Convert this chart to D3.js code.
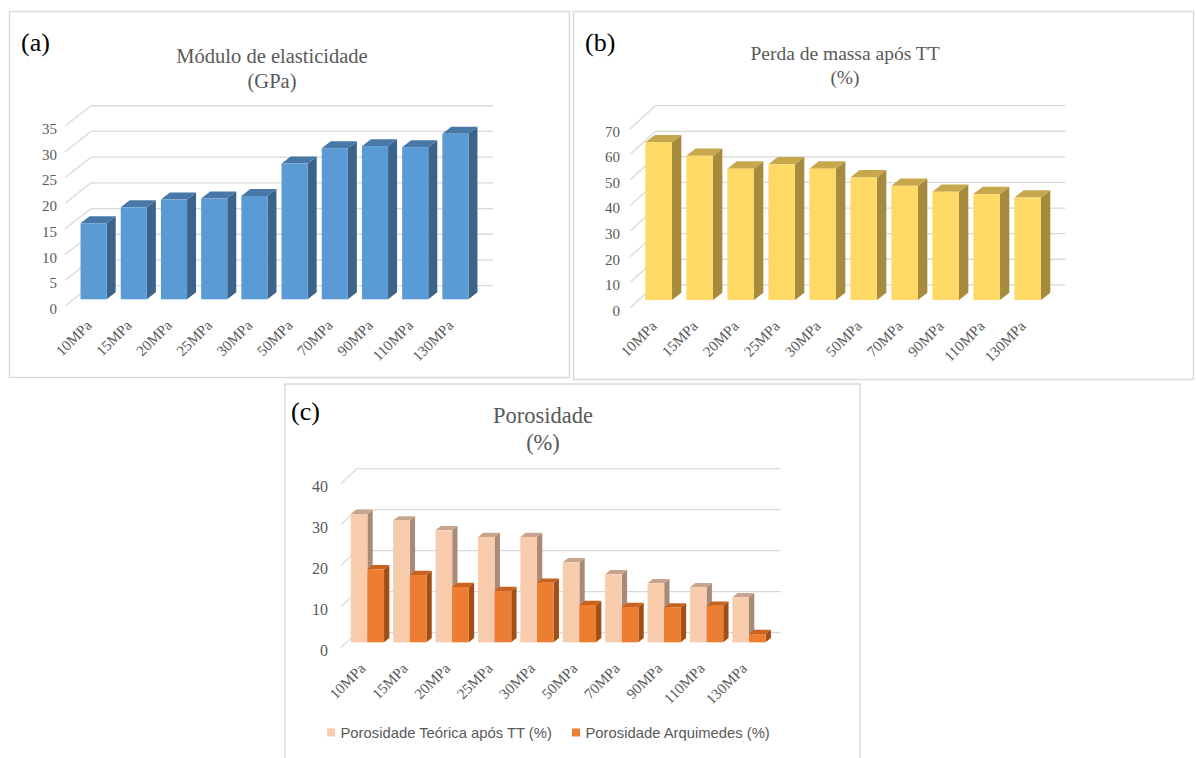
<!DOCTYPE html>
<html>
<head>
<meta charset="utf-8">
<script src="https://cdn.jsdelivr.net/npm/d3@7"></script>
<style>
  html, body { margin: 0; padding: 0; background: #fff; }
  svg { display: block; }
</style>
</head>
<body>
<svg id="fig" width="1196" height="758"></svg>
<script>
// Pressure levels shared by all three panels
const categories = ["10MPa", "15MPa", "20MPa", "25MPa", "30MPa", "50MPa", "70MPa", "90MPa", "110MPa", "130MPa"];

// (a) Módulo de elasticidade (GPa)
const moduloGPa = [14.8, 17.9, 19.4, 19.6, 20.1, 26.4, 29.4, 29.8, 29.6, 32.2];
const ticksA = [0, 5, 10, 15, 20, 25, 30, 35];

// (b) Perda de massa após TT (%)
const perdaMassa = [61.6, 56.3, 51.3, 53.0, 51.3, 47.9, 44.6, 42.3, 41.4, 40.0];
const ticksB = [0, 10, 20, 30, 40, 50, 60, 70];

// (c) Porosidade (%)
const porosTeorica = [31.3, 29.7, 27.3, 25.7, 25.7, 19.5, 16.6, 14.4, 13.4, 11.0];
const porosArquimedes = [17.8, 16.4, 13.5, 12.5, 14.5, 9.1, 8.6, 8.5, 8.9, 2.0];
const ticksC = [0, 10, 20, 30, 40];
const seriesC = ["Porosidade Teórica após TT (%)", "Porosidade Arquimedes (%)"];

const svg = d3.select("#fig");
const SERIF = "'Liberation Serif', 'Times New Roman', serif";
const SANS = "'Liberation Sans', Arial, sans-serif";
const GRID = "#d9d9d9";
const TXT = "#595959";

// Panel frames
const frames = [
  { x: 9.5, y: 11.5, w: 560, h: 366 },
  { x: 573.5, y: 11.5, w: 620, h: 368 },
  { x: 285, y: 384, w: 575, h: 380 }
];
svg.selectAll("rect.frame").data(frames).join("rect")
  .attr("class", "frame")
  .attr("x", d => d.x).attr("y", d => d.y)
  .attr("width", d => d.w).attr("height", d => d.h)
  .attr("fill", "#fff").attr("stroke", GRID).attr("stroke-width", 1.4);

// Draws one pseudo-3D column chart (oblique projection)
function panel(cfg) {
  const g = svg.append("g");
  const y = d3.scaleLinear().domain(cfg.domain).range([cfg.base, cfg.base - cfg.domain[1] * cfg.k]);
  const x = d3.scaleBand().domain(categories)
    .range([cfg.left, cfg.left + cfg.width])
    .paddingInner(cfg.pad).paddingOuter(cfg.pad / 2);
  // bar front plane -> mid depth of the bars -> front / back walls of the box
  const midShiftX = cfg.bdx / 2, midShiftY = -cfg.bdy / 2;
  const plane = {
    frontLeft: x.range()[0] + midShiftX - cfg.dx / 2,
    backLeft: x.range()[0] + midShiftX + cfg.dx / 2,
    backRight: x.range()[1] + midShiftX + cfg.dx / 2
  };
  const frontY = v => y(v) + midShiftY + cfg.dy / 2;
  const backY = v => y(v) + midShiftY - cfg.dy / 2;

  // gridlines on back wall and side wall
  g.selectAll("line.gb").data(cfg.ticks).join("line")
    .attr("x1", plane.backLeft).attr("x2", plane.backRight)
    .attr("y1", d => backY(d)).attr("y2", d => backY(d))
    .attr("stroke", GRID).attr("stroke-width", 1.3);
  g.selectAll("line.gs").data(cfg.ticks).join("line")
    .attr("x1", plane.frontLeft).attr("x2", plane.backLeft)
    .attr("y1", d => frontY(d)).attr("y2", d => backY(d))
    .attr("stroke", GRID).attr("stroke-width", 1.3);

  // value axis labels
  g.selectAll("text.yt").data(cfg.ticks).join("text")
    .attr("x", cfg.tickX).attr("y", d => frontY(d) + 8)
    .attr("text-anchor", "end")
    .attr("font-family", SERIF).attr("font-size", cfg.tickSize).attr("fill", TXT)
    .text(d => d);

  // category labels (rotated)
  g.selectAll("text.xt").data(categories).join("text")
    .attr("transform", d => {
      const cx = x(d) + x.bandwidth() / 2 - 1;
      const cy = cfg.base + 27;
      return `translate(${cx},${cy}) rotate(-45)`;
    })
    .attr("text-anchor", "end")
    .attr("font-family", SERIF).attr("font-size", 15).attr("fill", TXT)
    .text(d => d);

  // columns: side face, top face, then front face
  const inner = d3.scaleBand().domain(d3.range(cfg.series.length)).range([0, x.bandwidth()]);
  const bars = [];
  categories.forEach((c, i) => {
    cfg.series.forEach((s, j) => {
      bars.push({ x0: x(c) + inner(j), w: inner.bandwidth(), v: s.values[i], col: s.colors });
    });
  });
  const bg = g.selectAll("g.bar").data(bars).join("g");
  bg.append("path")
    .attr("d", b => {
      const x1 = b.x0 + b.w, t = y(b.v), bs = y(0);
      return `M${x1},${t}L${x1 + cfg.bdx},${t - cfg.bdy}L${x1 + cfg.bdx},${bs - cfg.bdy}L${x1},${bs}Z`;
    })
    .attr("fill", b => b.col.side);
  bg.append("path")
    .attr("d", b => {
      const x1 = b.x0 + b.w, t = y(b.v);
      return `M${b.x0},${t}L${b.x0 + cfg.bdx},${t - cfg.bdy}L${x1 + cfg.bdx},${t - cfg.bdy}L${x1},${t}Z`;
    })
    .attr("fill", b => b.col.top);
  bg.append("rect")
    .attr("x", b => b.x0).attr("y", b => y(b.v))
    .attr("width", b => b.w).attr("height", b => y(0) - y(b.v))
    .attr("fill", b => b.col.front);
  return g;
}

const blue = { front: "#5b9bd5", side: "#3a6489", top: "#4878a8" };
const yellow = { front: "#ffd966", side: "#a68a3e", top: "#c6a74c" };
const peach = { front: "#f8cbad", side: "#a88a78", top: "#c7a48e" };
const orange = { front: "#ed7d31", side: "#a24f17", top: "#c9621f" };

panel({
  domain: [0, 35], ticks: ticksA, base: 299.3, k: 5.14,
  left: 73.5, width: 402, pad: 0.35,
  bdx: 9, bdy: 7, dx: 26, dy: 20.3, tickX: 57, tickSize: 15,
  series: [{ values: moduloGPa, colors: blue }]
});
panel({
  domain: [0, 70], ticks: ticksB, base: 300, k: 2.56,
  left: 638.2, width: 410, pad: 0.35,
  bdx: 9.3, bdy: 7.3, dx: 25, dy: 23, tickX: 620, tickSize: 15,
  series: [{ values: perdaMassa, colors: yellow }]
});
panel({
  domain: [0, 40], ticks: ticksC, base: 642.3, k: 4.1,
  left: 346.2, width: 424, pad: 0.215,
  bdx: 5.3, bdy: 4.3, dx: 15.8, dy: 15, tickX: 328, tickSize: 16,
  series: [{ values: porosTeorica, colors: peach }, { values: porosArquimedes, colors: orange }]
});

// Titles
const titles = [
  { lines: ["Módulo de elasticidade", "(GPa)"], x: 272, y: [63, 88], size: 20.5 },
  { lines: ["Perda de massa após TT", "(%)"], x: 845, y: [60, 84], size: 19.5 },
  { lines: ["Porosidade", "(%)"], x: 543, y: [422.5, 450], size: 22.5 }
];
titles.forEach(t => {
  t.lines.forEach((s, i) => {
    svg.append("text").attr("x", t.x).attr("y", t.y[i])
      .attr("text-anchor", "middle")
      .attr("font-family", SERIF).attr("font-size", t.size).attr("fill", TXT)
      .text(s);
  });
});

// Panel letters
[["(a)", 21, 51], ["(b)", 585, 51], ["(c)", 291, 420]].forEach(([s, px, py]) => {
  svg.append("text").attr("x", px).attr("y", py)
    .attr("font-family", SERIF).attr("font-size", 26).attr("fill", "#000")
    .text(s);
});

// Legend for (c)
const legend = svg.append("g");
const legItems = [
  { label: seriesC[0], color: peach.front, x: 327 },
  { label: seriesC[1], color: orange.front, x: 572 }
];
legItems.forEach(it => {
  legend.append("rect").attr("x", it.x).attr("y", 728.5).attr("width", 8).attr("height", 8).attr("fill", it.color);
  legend.append("text").attr("x", it.x + 13.5).attr("y", 738)
    .attr("font-family", SANS).attr("font-size", 14.8).attr("fill", TXT)
    .text(it.label);
});
</script>
</body>
</html>
